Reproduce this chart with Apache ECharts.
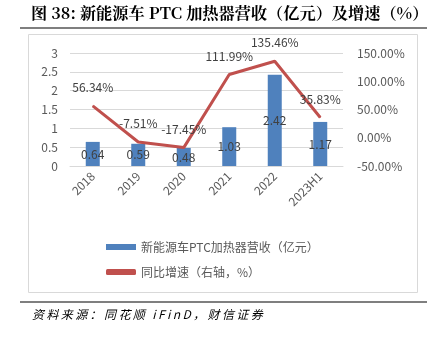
<!DOCTYPE html>
<html><head><meta charset="utf-8">
<script src="https://cdn.jsdelivr.net/npm/echarts@6/dist/echarts.min.js"></script>
<style>html,body{margin:0;padding:0;background:#fff}#c{width:441px;height:337px}</style>
</head><body><div id="c"></div>
<script>
var categories = ['2018','2019','2020','2021','2022','2023H1'];
var revenue = [0.64, 0.59, 0.48, 1.03, 2.42, 1.17];
var growth = [56.34, -7.51, -17.45, 111.99, 135.46, 35.83];
var revenueName = '新能源车PTC加热器营收（亿元）';
var growthName = '同比增速（右轴，%）';
var titleText = '图 38: 新能源车 PTC 加热器营收（亿元）及增速（%）';
var sourceText = '资料来源：同花顺 iFinD，财信证券';

function spaced(s){ return s.split('').join('\u2009'); }

var chart = echarts.init(document.getElementById('c'));
var gray = '#595959';
chart.setOption({
  animation: false,
  textStyle: {fontFamily: '"Noto Sans CJK SC", "Liberation Sans", sans-serif'},
  graphic: [
    {type:'text', left: 31, top: 5, style:{text: titleText, font:'bold 16.2px "Noto Serif CJK SC", "Noto Sans CJK SC", serif', fill:'#000'}},
    {type:'line', shape:{x1:20,y1:28,x2:427,y2:28}, style:{stroke:'#000', lineWidth:1.2}},
    {type:'rect', shape:{x:28.5,y:34.5,width:389,height:258}, style:{fill:null, stroke:'#d9d9d9', lineWidth:1}, z:-1},
    {type:'line', shape:{x1:20,y1:302,x2:427,y2:302}, style:{stroke:'#000', lineWidth:1.2}},
    {type:'text', left: 32, top: 308, style:{text: spaced(sourceText), font:'italic 12px "Noto Sans CJK SC", serif', fill:'#000'}}
  ],
  grid: {left: 70, right: 98, top: 53, bottom: 171},
  legend: {
    orient: 'vertical', left: 101, top: 236, itemGap: 13,
    itemWidth: 30, itemHeight: 6,
    textStyle: {color: gray, fontSize: 12},
    data: [
      {name: revenueName, icon: 'rect'},
      {name: growthName, icon: 'roundRect', itemStyle:{color:'#c0504d'}}
    ]
  },
  xAxis: {
    type: 'category', data: categories,
    axisLine: {lineStyle: {color: '#d9d9d9'}},
    axisTick: {show: false},
    axisLabel: {color: gray, fontSize: 12, rotate: 45, margin: 8}
  },
  yAxis: [
    {type:'value', min:0, max:3, interval:0.5, position:'left',
     axisLine:{show:false}, axisTick:{show:false},
     axisLabel:{color: gray, fontSize: 12, margin: 12},
     splitLine:{lineStyle:{color:'#d9d9d9'}}},
    {type:'value', min:-50, max:150, interval:50, position:'right',
     axisLine:{show:false}, axisTick:{show:false},
     axisLabel:{color: gray, fontSize: 12, margin: 14, formatter: function(v){return v.toFixed(2)+'%';}},
     splitLine:{show:false}}
  ],
  series: [
    {name: revenueName, type:'bar', data: revenue, barWidth: 14,
     itemStyle:{color:'#4f81bd'},
     label:{show:true, position:'inside', color:'#404040', fontSize:12, formatter: function(p){return p.value.toFixed(2);}}},
    {name: growthName, type:'line', yAxisIndex:1, data: growth, symbol:'circle', symbolSize: 1, showSymbol: true,
     lineStyle:{color:'#c0504d', width:3}, itemStyle:{color:'#c0504d'},
     label:{show:true, position:'top', distance: 12, color:'#404040', fontSize:12, formatter: function(p){return p.value.toFixed(2)+'%';}}}
  ]
});
</script></body></html>
